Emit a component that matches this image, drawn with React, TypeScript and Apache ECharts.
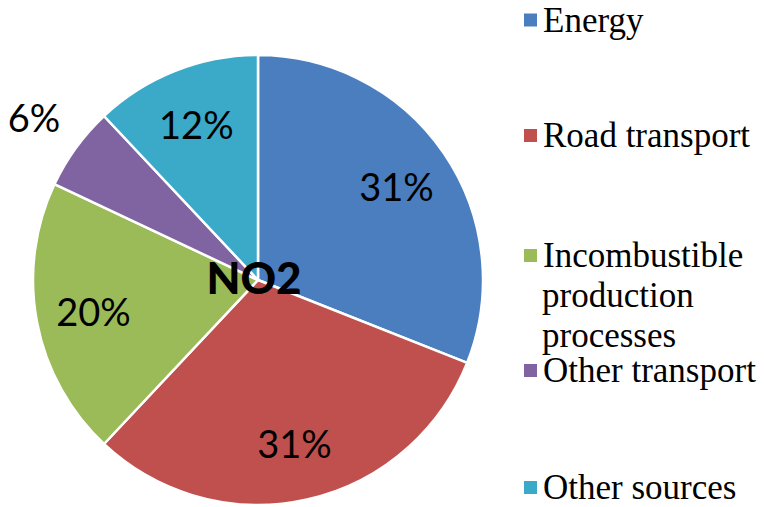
import React, { useEffect, useRef } from "react";
import * as echarts from "echarts";

const categories = [
  "Energy",
  "Road transport",
  "Incombustible production processes",
  "Other transport",
  "Other sources",
];
const shares = [31, 31, 20, 6, 12];
const colors = ["#4A7EBF", "#C0504D", "#9BBB59", "#8064A2", "#3AAAC8"];
const legendLabels = ["Energy", "Road transport", "Incombustible", "Other transport", "Other sources"];
const legendExtraLines = ["production", "processes"];
const outsideLabelCategory = "Other transport";
const centerTitle = "NO2";

const SERIF = "'Liberation Serif', 'Times New Roman', serif";

export default function App() {
  const ref = useRef<HTMLDivElement>(null);
  useEffect(() => {
    if (!ref.current) return;
    const chart = echarts.init(ref.current, null, { renderer: "svg" });
    const cx = 258;
    const cy = 280;
    const R = 225;
    const legendCenters = [20, 135.5, 255.5, 370.5, 487.5];
    const labelFont = { fontFamily: "Lato", fontSize: 38, color: "#000" };

    const mainData = categories.map((name, i) => ({
      name,
      value: shares[i],
      itemStyle: { color: colors[i] },
    }));
    const insideLabelData = categories.map((name, i) => ({
      name,
      value: shares[i],
      label: { show: name !== outsideLabelCategory },
    }));
    const outsideLabelData = categories.map((name, i) => ({
      name,
      value: shares[i],
      label: { show: name === outsideLabelCategory },
    }));

    const invisible = {
      type: "pie",
      center: [cx, cy],
      silent: true,
      startAngle: 90,
      clockwise: true,
      avoidLabelOverlap: false,
      itemStyle: { color: "transparent", borderWidth: 0 },
      labelLine: { show: false },
      emphasis: { disabled: true },
    };

    const legends = categories.map((name, i) => ({
      data: [name],
      orient: "vertical",
      left: 522,
      top: legendCenters[i] - 20,
      padding: 0,
      itemGap: 0,
      itemWidth: 15,
      itemHeight: 15,
      icon: "rect",
      selectedMode: false,
      formatter: () => legendLabels[i],
      textStyle: {
        fontFamily: SERIF,
        fontSize: 35,
        lineHeight: 40,
        color: "#000",
      },
    }));

    chart.setOption({
      animation: false,
      backgroundColor: "#fff",
      legend: legends,
      graphic: [
        {
          type: "text",
          x: 254,
          y: 277,
          z: 100,
          style: {
            text: centerTitle,
            fontFamily: "Lato",
            fontWeight: 900,
            fontSize: 44,
            fill: "#000",
            align: "center",
            verticalAlign: "middle",
          },
        },
        ...legendExtraLines.map((t, k) => ({
          type: "text",
          x: 542,
          y: legendCenters[2] + 40 * (k + 1),
          style: {
            text: t,
            fontFamily: SERIF,
            fontSize: 35,
            fill: "#000",
            align: "left",
            verticalAlign: "middle",
          },
        })),
      ],
      series: [
        {
          type: "pie",
          center: [cx, cy],
          radius: [0, R],
          startAngle: 90,
          clockwise: true,
          silent: true,
          itemStyle: { borderColor: "#fff", borderWidth: 2.5 },
          label: { show: false },
          labelLine: { show: false },
          emphasis: { disabled: true },
          data: mainData,
        },
        {
          ...invisible,
          radius: [104, R],
          label: { show: true, position: "inside", formatter: "{c}%", ...labelFont },
          data: insideLabelData,
        },
        {
          ...invisible,
          radius: [R, 323],
          label: { show: true, position: "inside", formatter: "{c}%", ...labelFont },
          data: outsideLabelData,
        },
      ],
    });
    return () => chart.dispose();
  }, []);
  return (
    <div
      ref={ref}
      style={{ position: "fixed", left: 0, top: 0, width: 764, height: 507 }}
    />
  );
}
